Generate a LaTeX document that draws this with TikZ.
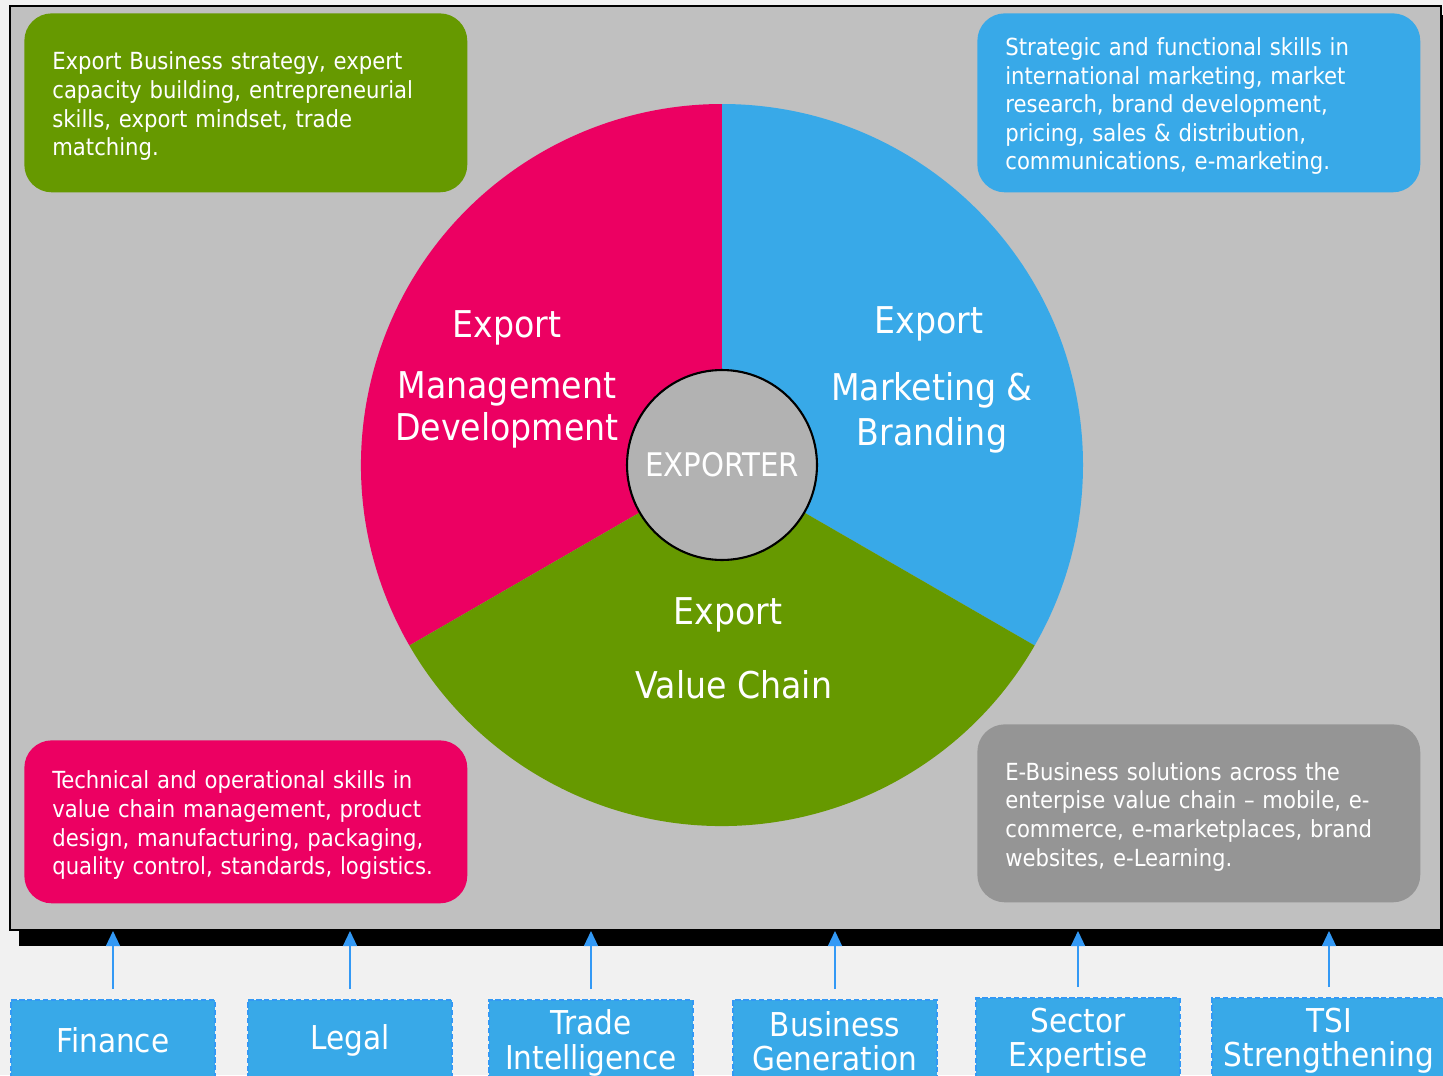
\documentclass[tikz,border=0pt]{standalone}
\usepackage{fontspec}
\setmainfont{DejaVu Sans Condensed}
\usetikzlibrary{arrows.meta}

\definecolor{pieRed}{HTML}{EC0062}
\definecolor{pieBlue}{HTML}{38A9E8}
\definecolor{pieGreen}{HTML}{669900}
\definecolor{boxGrey}{HTML}{959595}
\definecolor{panelGrey}{HTML}{C0C0C0}
\definecolor{hubGrey}{HTML}{B2B2B2}
\definecolor{pageGrey}{HTML}{F1F1F1}
\definecolor{lineBlue}{HTML}{3399F5}

% strut that pushes the first line of a note down a little
\newcommand{\notestrut}{\rule{0pt}{14pt}}

\tikzset{
	skillbox/.style={anchor=north west, rounded corners=0.55cm, text=white, align=left,
		text width=7.74cm, inner xsep=0.56cm, inner ysep=0pt, minimum width=8.86cm,
		font=\fontsize{13.4}{16.3}\selectfont},
	pielabel/.style={text=white, align=center, inner sep=0pt, font=\fontsize{21}{23.5}\selectfont},
	supportbox/.style={fill=pieBlue, draw=lineBlue, line width=0.9pt, dash pattern=on 3pt off 1.5pt,
		text=white, align=center, minimum width=4.08cm, minimum height=1.72cm, inner sep=0pt,
		font=\fontsize{18.7}{19.5}\selectfont},
	feed/.style={draw=lineBlue, line width=0.7pt, shorten <=0.2cm, -{Triangle[width=0.28cm,length=0.3cm]}}
}

\begin{document}
\begin{tikzpicture}[x=0.02cm, y=-0.02cm]
		%%%%% START %%%%%
		\clip (0, 0) rectangle (1443, 1075);
		\fill[pageGrey] (0, 0) rectangle (1443, 1075);
		
		% panel with its drop shadow
		\fill[black] (19, 15) rectangle (1443, 946);
		\draw[fill=panelGrey, line width=1.4pt] (10, 6) rectangle (1441, 930);
		
		% the three segments of the wheel (y runs downwards)
		\fill[pieRed] (722, 465) -- ++(150:361) arc (150:270:361) -- cycle;
		\fill[pieBlue] (722, 465) -- ++(-90:361) arc (-90:30:361) -- cycle;
		\fill[pieGreen] (722, 465) -- ++(30:361) arc (30:150:361) -- cycle;
		
		\node[circle, fill=hubGrey, draw=black, line width=1.2pt, minimum size=3.8cm, inner sep=0pt,
			text=white, font=\fontsize{18.5}{20}\selectfont] (hub) at (722, 465) {EXPORTER};
		
		\node[pielabel] (mgmtTop) at (507, 328) {Export};
		\node[pielabel] (mgmt) at (507, 410) {Management\\Development};
		\node[pielabel] (mktTop) at (929, 324) {Export};
		\node[pielabel, font=\fontsize{21}{25.5}\selectfont] (mkt) at (932, 413) {Marketing \&\\Branding};
		\node[pielabel] (chainTop) at (728, 615) {Export};
		\node[pielabel] (chain) at (734, 685) {Value Chain};
		
		% corner notes
		\node[skillbox, fill=pieGreen, minimum height=3.58cm] (noteMgmt) at (24, 13)
			{\notestrut Export Business strategy, expert\\capacity building, entrepreneurial\\skills, export mindset, trade\\matching.};
		\node[skillbox, fill=pieBlue, minimum width=8.84cm, minimum height=3.58cm] (noteMkt) at (977, 13)
			{\notestrut Strategic and functional skills in\\international marketing, market\\research, brand development,\\pricing, sales \& distribution,\\communications, e-marketing.};
		\node[skillbox, fill=pieRed, minimum height=3.26cm] (noteChain) at (24, 740)
			{\notestrut Technical and operational skills in\\value chain management, product\\design, manufacturing, packaging,\\quality control, standards, logistics.};
		\node[skillbox, fill=boxGrey, minimum width=8.84cm, minimum height=3.56cm] (noteEbiz) at (977, 724)
			{\notestrut E-Business solutions across the\\enterpise value chain -- mobile, e-\\commerce, e-marketplaces, brand\\websites, e-Learning.};
		
		% support services feeding the panel
		\coordinate (panelEdge) at (0, 931);
		\node[supportbox, minimum height=1.6cm] (finance) at (113, 1040) {Finance};
		\node[supportbox, minimum height=1.6cm] (legal) at (350, 1040) {Legal};
		\node[supportbox] (trade) at (591, 1043) {Trade\\Intelligence};
		\node[supportbox, minimum height=1.64cm] (bizgen) at (835, 1041) {Business\\Generation};
		\node[supportbox] (sector) at (1078, 1041) {Sector\\Expertise};
		\node[supportbox, minimum width=4.68cm] (tsi) at (1329, 1041) {TSI\\Strengthening};
		
		\foreach \s in {finance, legal, trade, bizgen, sector, tsi}
			\draw[feed] (\s.north) -- (\s.north |- panelEdge);
		
		%%%%% END %%%%%
	\end{tikzpicture}
\end{document}
